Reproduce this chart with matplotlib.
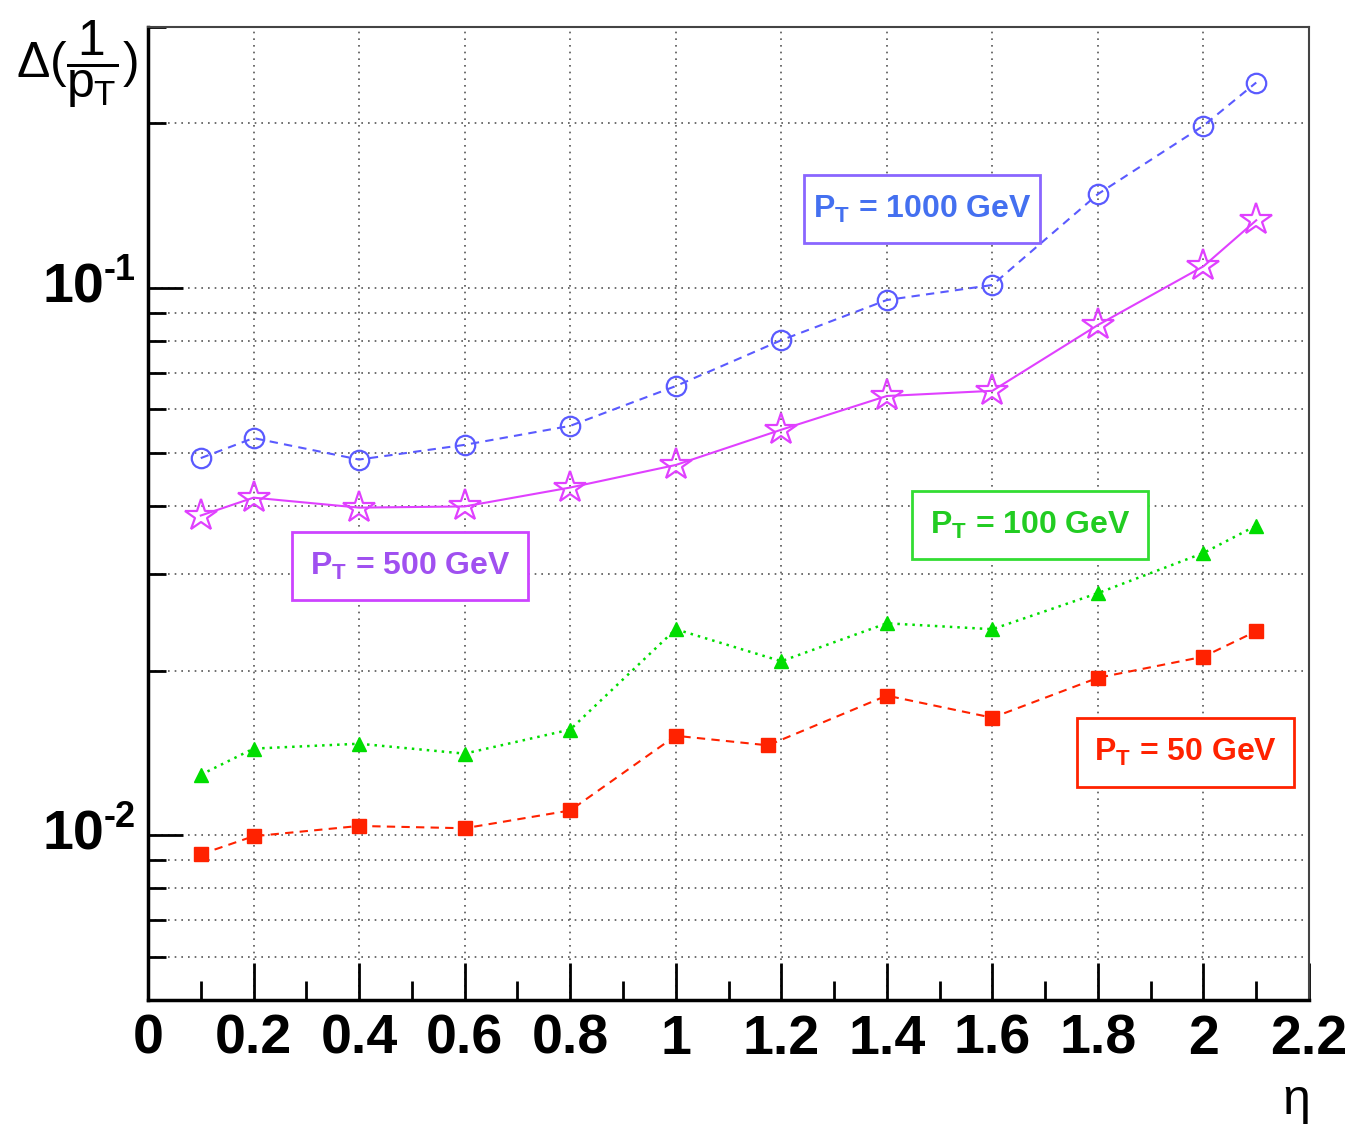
import matplotlib
matplotlib.use("Agg")
import matplotlib.pyplot as plt
from matplotlib.ticker import LogLocator, FixedLocator, NullFormatter, FixedFormatter

plt.rcParams['font.family'] = ['Liberation Sans', 'DejaVu Sans']
plt.rcParams['mathtext.fontset'] = 'custom'
plt.rcParams['mathtext.rm'] = 'Liberation Sans'
plt.rcParams['mathtext.it'] = 'Liberation Sans'
plt.rcParams['mathtext.bf'] = 'Liberation Sans:bold'

eta = [0.1, 0.2, 0.4, 0.6, 0.8, 1.0, 1.2, 1.4, 1.6, 1.8, 2.0, 2.1]
eta_red = [0.1, 0.2, 0.4, 0.6, 0.8, 1.0, 1.175, 1.4, 1.6, 1.8, 2.0, 2.1]

res_1000 = [0.0489, 0.0532, 0.0486, 0.0517, 0.0560, 0.0662, 0.0803, 0.0951, 0.1013, 0.1485, 0.198, 0.2375]
res_500 = [0.0384, 0.0414, 0.0397, 0.0399, 0.0432, 0.0475, 0.0551, 0.0635, 0.0649, 0.0856, 0.1096, 0.133]
res_100 = [0.0129, 0.0144, 0.0147, 0.0141, 0.0156, 0.0238, 0.0208, 0.0244, 0.0238, 0.0277, 0.0328, 0.0368]
res_50 = [0.00923, 0.00996, 0.0104, 0.0103, 0.0111, 0.0152, 0.0146, 0.0180, 0.0164, 0.0194, 0.0212, 0.0236]

labels = ["$\\mathregular{P_T}$ = 1000 GeV", "$\\mathregular{P_T}$ = 500 GeV",
          "$\\mathregular{P_T}$ = 100 GeV", "$\\mathregular{P_T}$ = 50 GeV"]

xticks = [0, 0.2, 0.4, 0.6, 0.8, 1.0, 1.2, 1.4, 1.6, 1.8, 2.0, 2.2]
xticklabels = ["0", "0.2", "0.4", "0.6", "0.8", "1", "1.2", "1.4", "1.6", "1.8", "2", "2.2"]
yticks_labeled = [0.1, 0.01]
ytick_exps = ["-1", "-2"]

c_blue = '#5a5aff'
c_mag = '#e040ff'
c_green = '#00dd00'
c_red = '#ff2200'

fig = plt.figure(figsize=(13.55, 11.3), dpi=100)
ax = fig.add_axes([148/1355, 1-1000/1130, (1309-148)/1355, (1000-27)/1130])

ax.plot(eta, res_1000, color=c_blue, ls=(0, (4, 3)), lw=1.5, marker='o', ms=14,
        mfc='none', mec=c_blue, mew=1.6, zorder=3)
ax.plot(eta, res_500, color=c_mag, ls='-', lw=1.5, marker='*', ms=24,
        mfc='none', mec=c_mag, mew=1.6, zorder=3)
ax.plot(eta, res_100, color=c_green, ls=(0, (1, 2)), lw=1.8, marker='^', ms=10,
        mfc=c_green, mec=c_green, zorder=3)
ax.plot(eta_red, res_50, color=c_red, ls=(0, (4, 3)), lw=1.5, marker='s', ms=10,
        mfc=c_red, mec=c_red, zorder=3)

ax.set_yscale('log')
ax.set_xlim(0, 2.2)
ax.set_ylim(0.005, 0.3)

ax.xaxis.set_major_locator(FixedLocator(xticks))
ax.xaxis.set_major_formatter(FixedFormatter(xticklabels))
ax.xaxis.set_minor_locator(FixedLocator([0.1 + 0.2*i for i in range(11)]))
ax.yaxis.set_major_locator(LogLocator(base=10, numticks=10))
ax.yaxis.set_minor_locator(LogLocator(base=10, subs=range(2, 10), numticks=20))
ax.yaxis.set_minor_formatter(NullFormatter())
ax.yaxis.set_major_formatter(FixedFormatter([]))

ax.tick_params(axis='x', which='major', direction='in', length=27, width=2,
               top=False, labelsize=40, pad=10)
ax.tick_params(axis='x', which='minor', direction='in', length=14, width=2, top=False)
ax.tick_params(axis='y', which='major', direction='in', length=25, width=2, right=False)
ax.tick_params(axis='y', which='minor', direction='in', length=13, width=2, right=False)
for lab in ax.get_xticklabels():
    lab.set_fontweight('bold')

ax.grid(True, which='major', axis='x', ls=(0, (1, 3)), color='#555555', lw=1.2)
ax.grid(True, which='both', axis='y', ls=(0, (1, 3)), color='#555555', lw=1.2)

for s in ['left', 'bottom']:
    ax.spines[s].set_linewidth(2.5)
for s in ['top', 'right']:
    ax.spines[s].set_linewidth(1.5)
    ax.spines[s].set_color('#444444')

# y tick labels (10 with small superscript exponent)
for val, ex in zip(yticks_labeled, ytick_exps):
    ax.text(-0.038, val, "10", transform=ax.get_yaxis_transform(), ha='right',
            va='center', fontsize=40, fontweight='bold')
    ax.text(-0.038, val, ex, transform=ax.get_yaxis_transform(), ha='left',
            va='bottom', fontsize=26, fontweight='bold')

# axis titles
fig.text(16/1355, 1-64/1130, '$\\Delta(\\dfrac{1}{p_T})$', fontsize=36, ha='left', va='center')
fig.text(1295/1355, 1-1103/1130, '$\\eta$', fontsize=36, ha='center', va='center')

# labelled boxes
boxes = [
    (804, 175, 1040, 243, labels[0], '#4470f0', '#8a66ff'),
    (292, 532, 528, 600, labels[1], '#a050f0', '#cc44ff'),
    (912, 491, 1148, 559, labels[2], '#22cc22', '#33dd33'),
    (1077, 718, 1294, 787, labels[3], '#ff2200', '#ff2200'),
]
for x0, y0, x1, y1, txt, tc, ec in boxes:
    rect = plt.Rectangle((x0/1355, 1-y1/1130), (x1-x0)/1355, (y1-y0)/1130,
                         transform=fig.transFigure, fill=True, fc='white',
                         ec=ec, lw=2, zorder=5)
    fig.add_artist(rect)
    fig.text((x0+x1)/2/1355, 1-(y0+y1)/2/1130, txt, color=tc, fontsize=23,
             fontweight='bold', ha='center', va='center', zorder=6)

fig.savefig('out.png', dpi=100)
